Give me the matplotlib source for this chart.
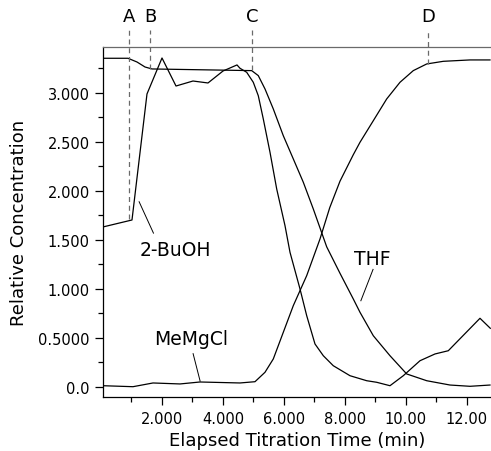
import matplotlib
matplotlib.use("Agg")
import matplotlib.pyplot as plt
from matplotlib.ticker import FixedLocator

plt.rcParams['font.family'] = ['DejaVu Sans']

# traces (time in min, relative concentration)
buoh_t = [0.066, 1.016, 1.508, 2.000, 2.459, 3.016, 3.508, 4.000, 4.459, 4.557,
          4.777, 4.993, 5.157, 5.321, 5.541, 5.761, 6.033, 6.197, 6.525, 6.744,
          7.016, 7.289, 7.616, 8.164, 8.711, 9.039, 9.475, 9.911, 10.459,
          10.951, 11.387, 12.426, 12.764]
buoh_c = [1.633, 1.704, 2.990, 3.357, 3.071, 3.122, 3.102, 3.224, 3.286, 3.252,
          3.211, 3.109, 2.972, 2.735, 2.395, 2.020, 1.646, 1.374, 1.000, 0.728,
          0.439, 0.319, 0.217, 0.115, 0.064, 0.048, 0.013, 0.115, 0.268,
          0.337, 0.370, 0.701, 0.599]

thf_t = [0.066, 0.885, 1.180, 1.443, 1.672, 4.941, 5.157, 5.377, 5.649, 5.977,
         6.305, 6.633, 6.961, 7.400, 7.836, 8.272, 8.492, 8.928, 9.475,
         10.023, 10.679, 11.443, 12.098, 12.754]
thf_c = [3.354, 3.354, 3.316, 3.265, 3.245, 3.228, 3.177, 3.041, 2.837, 2.564,
         2.327, 2.089, 1.816, 1.430, 1.160, 0.898, 0.762, 0.523, 0.319,
         0.133, 0.064, 0.020, 0.007, 0.020]

mg_t = [0.066, 1.049, 1.705, 2.590, 3.246, 4.557, 5.049, 5.377, 5.649, 5.977,
        6.305, 6.744, 7.180, 7.500, 7.836, 8.272, 8.492, 8.928, 9.367,
        9.803, 10.239, 10.679, 11.223, 12.098, 12.754]
mg_c = [0.013, 0.003, 0.041, 0.031, 0.051, 0.041, 0.054, 0.150, 0.286, 0.558,
        0.830, 1.136, 1.510, 1.830, 2.100, 2.370, 2.497, 2.717, 2.939,
        3.109, 3.228, 3.296, 3.323, 3.337, 3.337]

# event markers: label, time, where the dashed line stops
events = ['A', 'B', 'C', 'D']
event_t = [0.92, 1.61, 4.95, 10.72]
event_end = [1.71, 3.24, 3.23, 3.30]

yticks = [0.0, 0.5, 1.0, 1.5, 2.0, 2.5, 3.0]
ytick_labels = ['0.0', '0.5000', '1.000', '1.500', '2.000', '2.500', '3.000']
xticks = [2, 4, 6, 8, 10, 12]
xtick_labels = ['2.000', '4.000', '6.000', '8.000', '10.00', '12.00']

fig = plt.figure(figsize=(4.91, 4.52), dpi=100)
ax = fig.add_axes([0.2098, 0.1195, 0.7902, 0.7743])

for t, c in [(buoh_t, buoh_c), (thf_t, thf_c), (mg_t, mg_c)]:
    ax.plot(t, c, color='black', lw=0.9)

for lab, t, end in zip(events, event_t, event_end):
    ax.plot([t, t], [end, 3.64], color='#6a6a6a', lw=0.9, ls=(0, (4, 3)),
            clip_on=False)
    ax.text(t, 3.79, lab, ha='center', va='center', fontsize=13)

# curve labels with pointer lines
ax.text(2.43, 1.40, '2-BuOH', ha='center', va='center', fontsize=13.5)
ax.plot([1.72, 1.25], [1.57, 1.89], color='black', lw=0.7)
ax.text(2.97, 0.49, 'MeMgCl', ha='center', va='center', fontsize=13.5)
ax.plot([3.02, 3.25], [0.34, 0.06], color='black', lw=0.7)
ax.text(8.89, 1.31, 'THF', ha='center', va='center', fontsize=13.5)
ax.plot([8.92, 8.52], [1.20, 0.88], color='black', lw=0.7)

ax.set_xlim(0.066, 12.787)
ax.set_ylim(-0.102, 3.469)
ax.set_yticks(yticks)
ax.set_yticklabels(ytick_labels)
ax.set_xticks(xticks)
ax.set_xticklabels(xtick_labels)
ax.yaxis.set_minor_locator(FixedLocator([0.25, 0.75, 1.25, 1.75, 2.25, 2.75, 3.25]))
ax.xaxis.set_minor_locator(FixedLocator([1, 3, 5, 7, 9, 11]))
ax.tick_params(which='major', length=6, width=0.9, labelsize=10.5)
ax.tick_params(which='minor', length=3.5, width=0.9)
ax.tick_params(axis='y', which='major', pad=3.5)
ax.tick_params(axis='x', which='major', pad=4)

ax.spines['right'].set_visible(False)
ax.spines['top'].set_color('#6a6a6a')
for s in ['left', 'bottom', 'top']:
    ax.spines[s].set_linewidth(0.9)

ax.set_xlabel('Elapsed Titration Time (min)', fontsize=13, labelpad=4)
ax.set_ylabel('Relative Concentration', fontsize=13, labelpad=7.5)

fig.savefig('out.png', dpi=100)
